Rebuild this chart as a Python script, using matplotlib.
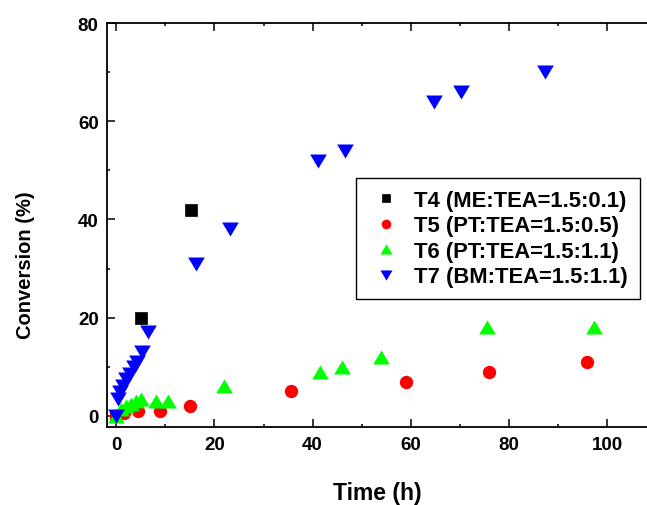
import matplotlib
matplotlib.use('Agg')
import matplotlib.pyplot as plt
from matplotlib.ticker import MultipleLocator

plt.rcParams['font.family'] = ['Liberation Sans', 'DejaVu Sans']
plt.rcParams['font.weight'] = 'bold'

# Conversion vs time for the four runs
t4_time = [0, 5, 15.3]
t4_conv = [0, 20, 42]

t5_time = [0, 1.5, 4.5, 9, 15, 35.7, 59, 76, 96]
t5_conv = [0, 0.5, 1, 1, 2, 5, 7, 9, 11]

t6_time = [0, 1, 2, 3, 4, 5, 8, 10.5, 22, 41.5, 46, 54, 75.5, 97.3]
t6_conv = [0, 1.5, 2, 2.5, 3, 3.5, 3, 3, 6, 9, 10, 12, 18, 18]

t7_time = [0, 0.3, 0.7, 1.3, 1.9, 2.75, 3.6, 4.3, 5.3, 6.4,
           16.2, 23.1, 41.1, 46.6, 64.7, 70.2, 87.4]
t7_conv = [0, 3.5, 4.9, 6.1, 7.5, 8.5, 10, 11, 13, 17,
           31, 38, 52, 54, 64, 66, 70]

labels = ['T4 (ME:TEA=1.5:0.1)', 'T5 (PT:TEA=1.5:0.5)',
          'T6 (PT:TEA=1.5:1.1)', 'T7 (BM:TEA=1.5:1.1)']

# Origin style triangles: wider than tall
tri_up = [(-1, -0.84), (1, -0.84), (0, 0.84), (-1, -0.84)]
tri_down = [(-1, 0.84), (1, 0.84), (0, -0.84), (-1, 0.84)]

fig = plt.figure(figsize=(6.47, 5.06), dpi=100)
ax = fig.add_axes([107 / 647, 1 - 427.7 / 506, 1 - 107 / 647,
                   (427.7 - 24) / 506])

ax.plot(t4_time, t4_conv, ls='none', marker='s', ms=8.8, color='black',
        mew=0.5, label=labels[0], clip_on=False)
ax.plot(t5_time, t5_conv, ls='none', marker='o', ms=9.6, color='#ff0000',
        mew=0, label=labels[1], clip_on=False)
ax.plot(t6_time, t6_conv, ls='none', marker=tri_up, ms=12, color='#00ff00',
        mew=0, label=labels[2], clip_on=False)
ax.plot(t7_time, t7_conv, ls='none', marker=tri_down, ms=12,
        color='#0000ff', mew=0, label=labels[3], clip_on=False)

ax.set_xlim(-1.9, 108.15)
ax.set_ylim(-2.2, 80)
ax.xaxis.set_major_locator(MultipleLocator(20))
ax.xaxis.set_minor_locator(MultipleLocator(10))
ax.yaxis.set_major_locator(MultipleLocator(20))
ax.yaxis.set_minor_locator(MultipleLocator(10))
ax.set_xticks([0, 20, 40, 60, 80, 100])

ax.tick_params(which='both', direction='in', top=True, right=False,
               width=1.1, labelsize=13.5)
ax.tick_params(which='major', length=5.5, pad=6)
ax.tick_params(which='minor', length=2.5)
ax.tick_params(axis='x', which='major', pad=7)

for side in ['left', 'bottom', 'top']:
    ax.spines[side].set_linewidth(1.3)
ax.spines['right'].set_visible(False)

ax.set_xlabel('Time (h)', fontsize=16.5, fontweight='bold', labelpad=20)
ax.set_ylabel('Conversion (%)', fontsize=14.5, fontweight='bold')
ax.yaxis.set_label_coords(-0.133, 0.403)

leg = ax.legend(loc='upper right', bbox_to_anchor=(640 / 647, 1 - 179 / 506),
                bbox_transform=fig.transFigure, borderaxespad=0,
                fontsize=15.8, markerscale=0.72, fancybox=False,
                edgecolor='black', framealpha=1, handlelength=1.6,
                handletextpad=0.5, labelspacing=0.2, borderpad=0.55)
leg.get_frame().set_linewidth(1.0)

plt.savefig('out.png', dpi=100)
